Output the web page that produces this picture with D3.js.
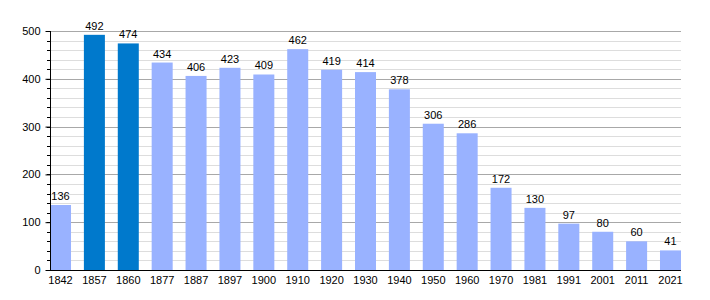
<!DOCTYPE html>
<html>
<head>
<meta charset="utf-8">
<script src="https://cdn.jsdelivr.net/npm/d3@7"></script>
<style>
  body { margin: 0; background: #fff; }
  text { font-family: "Liberation Sans", Arial, sans-serif; font-size: 11px; fill: #000; }
</style>
</head>
<body>
<div id="chart"></div>
<script>
const years = ['1842', '1857', '1860', '1877', '1887', '1897', '1900', '1910', '1920', '1930',
               '1940', '1950', '1960', '1970', '1981', '1991', '2001', '2011', '2021'];
const population = [136, 492, 474, 434, 406, 423, 409, 462, 419, 414,
                    378, 306, 286, 172, 130, 97, 80, 60, 41];
const highlighted = ['1857', '1860'];
const majorTicks = [0, 100, 200, 300, 400, 500];
const minorTicks = d3.range(0, 501, 20);

const AREA_WIDTH = 710;
const AREA_HEIGHT = 300;
const MARGIN = { TOP: 31, RIGHT: 29, BOTTOM: 30, LEFT: 50 };
const WIDTH = AREA_WIDTH - MARGIN.LEFT - MARGIN.RIGHT;
const HEIGHT = AREA_HEIGHT - MARGIN.TOP - MARGIN.BOTTOM;

const svg = d3.select('#chart')
              .append('svg')
              .attr('width', AREA_WIDTH)
              .attr('height', AREA_HEIGHT)
              .append('g')
              .attr('transform', `translate(${MARGIN.LEFT},${MARGIN.TOP})`);

const x = d3.scaleBand()
            .domain(years)
            .range([0, WIDTH])
            .paddingInner(0.38)
            .paddingOuter(0);

const y = d3.scaleLinear()
            .domain([0, 500])
            .range([HEIGHT, 0]);

// minor grid
svg.append('g')
   .selectAll('line')
   .data(minorTicks.filter(d => d % 100 !== 0))
   .enter()
   .append('line')
   .attr('x1', 0).attr('x2', WIDTH)
   .attr('y1', d => Math.round(y(d)) + 0.5)
   .attr('y2', d => Math.round(y(d)) + 0.5)
   .attr('stroke', '#dddddd');

// major grid
svg.append('g')
   .selectAll('line')
   .data(majorTicks.filter(d => d > 0))
   .enter()
   .append('line')
   .attr('x1', 0).attr('x2', WIDTH)
   .attr('y1', d => Math.round(y(d)) + 0.5)
   .attr('y2', d => Math.round(y(d)) + 0.5)
   .attr('stroke', '#a8a8a8');

svg.selectAll('rect')
   .data(population)
   .enter()
   .append('rect')
   .attr('x', (d, i) => x(years[i]))
   .attr('y', d => y(d))
   .attr('width', x.bandwidth())
   .attr('height', d => HEIGHT - y(d))
   .attr('fill', (d, i) => highlighted.includes(years[i]) ? '#0079cc' : '#99b2ff');

svg.selectAll('.value')
   .data(population)
   .enter()
   .append('text')
   .attr('class', 'value')
   .attr('x', (d, i) => x(years[i]) + x.bandwidth() / 2)
   .attr('y', d => y(d) - 5)
   .attr('text-anchor', 'middle')
   .text(d => d);

// y axis with minor ticks
const yMinor = svg.append('g');
yMinor.selectAll('line')
      .data(minorTicks)
      .enter()
      .append('line')
      .attr('x1', -3).attr('x2', 0)
      .attr('y1', d => Math.round(y(d)) + 0.5)
      .attr('y2', d => Math.round(y(d)) + 0.5)
      .attr('stroke', '#000');

const yAxis = svg.append('g')
                 .attr('transform', 'translate(0.5,0)')
                 .call(d3.axisLeft(y).tickValues(majorTicks).tickSize(5).tickPadding(5));
yAxis.select('.domain').attr('d', `M0,0V${HEIGHT}`);
yAxis.selectAll('text').style('font-size', '11px').style('font-family', '"Liberation Sans", Arial, sans-serif');

const xAxis = svg.append('g')
                 .attr('transform', `translate(0,${HEIGHT + 0.5})`)
                 .call(d3.axisBottom(x).tickSize(0).tickPadding(6));
xAxis.select('.domain').attr('d', `M0,0H${WIDTH}`);
xAxis.selectAll('text').style('font-size', '11px').style('font-family', '"Liberation Sans", Arial, sans-serif');
</script>
</body>
</html>
